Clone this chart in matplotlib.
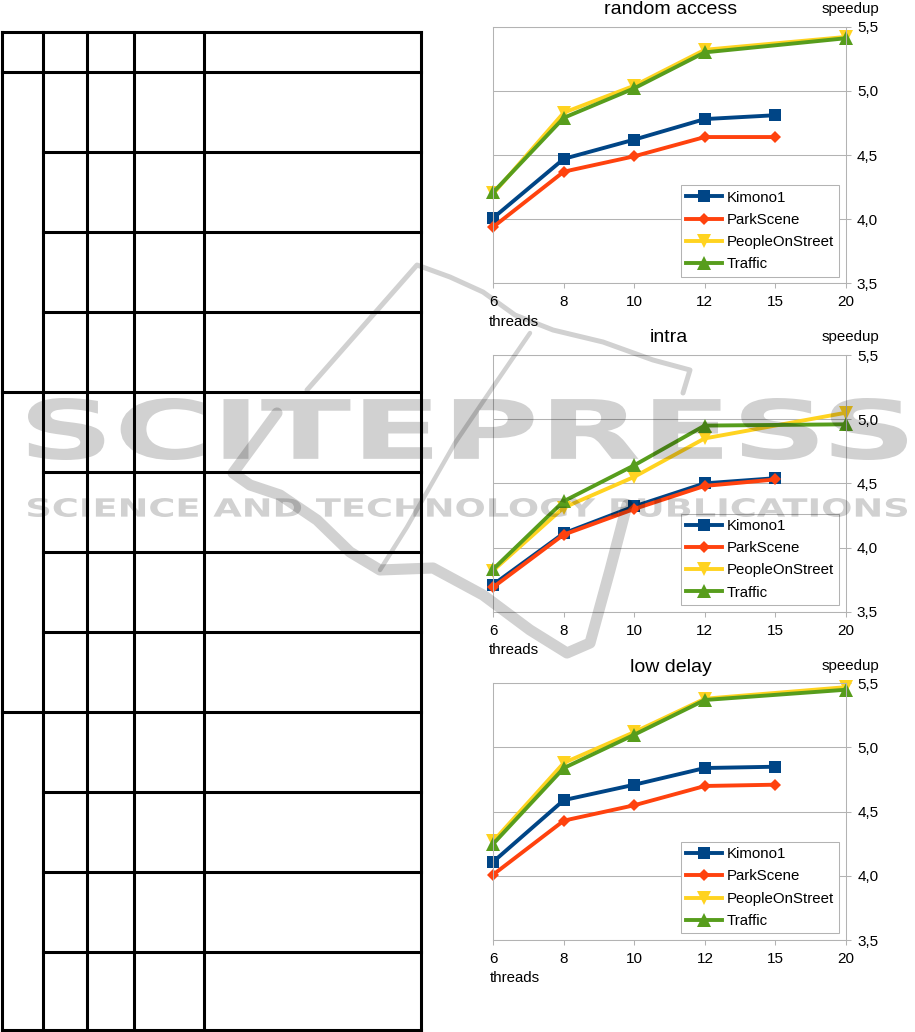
import numpy as np
import matplotlib
matplotlib.use("Agg")
import matplotlib.pyplot as plt
from matplotlib.ticker import FuncFormatter, FixedLocator
from matplotlib.textpath import TextPath
from matplotlib.patches import PathPatch
from matplotlib.font_manager import FontProperties
from matplotlib.transforms import Affine2D

plt.rcParams['font.family'] = ['Liberation Sans', 'DejaVu Sans']

# ---------------- data ----------------
threads = ["6", "8", "10", "12", "15", "20"]
series_names = ["Kimono1", "ParkScene", "PeopleOnStreet", "Traffic"]
nan = np.nan

ra_kimono = [4.01, 4.47, 4.62, 4.78, 4.81, nan]
ra_park = [3.94, 4.37, 4.49, 4.64, 4.64, nan]
ra_people = [4.20, 4.83, 5.04, 5.32, nan, 5.42]
ra_traffic = [4.21, 4.79, 5.02, 5.30, nan, 5.41]

in_kimono = [3.71, 4.11, 4.32, 4.50, 4.54, nan]
in_park = [3.69, 4.10, 4.30, 4.48, 4.53, nan]
in_people = [3.82, 4.31, 4.55, 4.85, nan, 5.05]
in_traffic = [3.83, 4.36, 4.64, 4.95, nan, 4.96]

ld_kimono = [4.11, 4.59, 4.71, 4.84, 4.85, nan]
ld_park = [4.01, 4.43, 4.55, 4.70, 4.71, nan]
ld_people = [4.27, 4.88, 5.12, 5.38, nan, 5.47]
ld_traffic = [4.25, 4.84, 5.10, 5.37, nan, 5.45]

chart_titles = ["random access", "intra", "low delay"]
y_ticks = [3.5, 4.0, 4.5, 5.0, 5.5]

charts = [
    [ra_kimono, ra_park, ra_people, ra_traffic],
    [in_kimono, in_park, in_people, in_traffic],
    [ld_kimono, ld_park, ld_people, ld_traffic],
]

# ---------------- styles ----------------
colors = ["#004586", "#ff420e", "#ffd320", "#579d1c"]
markers = ["s", "D", "v", "^"]
msizes = [8.5, 6, 9.5, 9.5]
GRAY = "#b3b3b3"

W, H = 915, 1032
fig = plt.figure(figsize=(W / 100, H / 100), dpi=100)

def frac_rect(x0, y0, x1, y1):
    return [x0 / W, 1 - y1 / H, (x1 - x0) / W, (y1 - y0) / H]

# background (table) axes in pixel coordinates
bg = fig.add_axes([0, 0, 1, 1], zorder=0)
bg.set_xlim(0, W)
bg.set_ylim(H, 0)
bg.axis("off")

lw_tab = 2.2
vx = [2, 43, 87, 134, 204, 421]
for x in vx:
    bg.plot([x, x], [32, 1030], color="black", lw=lw_tab, solid_capstyle="projecting")
rows = [32, 72, 152, 232, 312, 392, 472, 552, 632, 712, 792, 872, 952, 1030]
full_rows = {32, 72, 392, 712, 1030}
for y in rows:
    x0 = 2 if y in full_rows else 43
    bg.plot([x0, 421], [y, y], color="black", lw=lw_tab, solid_capstyle="projecting")

# chart axes rectangles (pixels)
rects = [
    (493.3, 26.7, 845.7, 283.3),
    (493.0, 355.0, 845.7, 611.7),
    (493.3, 683.3, 846.0, 940.0),
]
title_pos = [(671, 10), (669, 337), (671, 667)]
speed_pos = [(850, 9), (850, 337), (850, 666)]
thr_pos = [(489, 322), (489, 650), (490, 978)]

xpos = np.arange(len(threads))
fmt = FuncFormatter(lambda v, p: f"{v:.1f}".replace(".", ","))

for ci, (data, rect) in enumerate(zip(charts, rects)):
    ax = fig.add_axes(frac_rect(*rect), zorder=2)
    ax.set_xlim(0, len(threads) - 1)
    ax.set_ylim(3.5, 5.5)
    ax.set_axisbelow(True)
    ax.yaxis.grid(True, color=GRAY, lw=0.75)
    for s in ax.spines.values():
        s.set_color(GRAY)
        s.set_linewidth(0.75)
    ax.yaxis.tick_right()
    ax.yaxis.set_major_locator(FixedLocator(y_ticks))
    ax.yaxis.set_major_formatter(fmt)
    ax.set_xticks(xpos)
    ax.set_xticklabels(threads)
    ax.tick_params(axis="y", direction="out", length=3.6, width=0.75, color=GRAY,
                   pad=4.5, labelsize=11)
    ax.tick_params(axis="x", direction="out", length=3.6, width=0.75, color=GRAY,
                   pad=5, labelsize=11)
    handles = []
    for vals, name, c, m, ms in zip(data, series_names, colors, markers, msizes):
        v = np.array(vals, dtype=float)
        ok = ~np.isnan(v)
        h, = ax.plot(xpos[ok], v[ok], color=c, lw=2.8, marker=m, ms=ms,
                     markeredgewidth=0, label=name, clip_on=False)
        handles.append(h)
    leg = ax.legend(handles=handles, loc="lower right", fontsize=10.8,
                    frameon=True, fancybox=False, framealpha=1,
                    edgecolor=GRAY, facecolor="white", numpoints=1,
                    handlelength=2.4, handletextpad=0.3, labelspacing=0.55,
                    borderpad=0.35, borderaxespad=0.45)
    leg.get_frame().set_linewidth(0.75)

    tx, ty = title_pos[ci]
    bg.text(tx, ty, chart_titles[ci], ha="center", va="center", fontsize=14)
    sx, sy = speed_pos[ci]
    bg.text(sx, sy, "speedup", ha="center", va="center", fontsize=10.8)
    hx, hy = thr_pos[ci]
    bg.text(hx, hy, "threads", ha="left", va="center", fontsize=10.8)

# ---------------- watermark overlay ----------------
ov = fig.add_axes([0, 0, 1, 1], zorder=10)
ov.set_xlim(0, W)
ov.set_ylim(H, 0)
ov.axis("off")
ov.patch.set_alpha(0)

WM_ALPHA = 0.18
fp = FontProperties(family="DejaVu Sans", weight="bold")

def stretched_text(s, x0, y0, x1, y1):
    tp = TextPath((0, 0), s, size=10, prop=fp)
    ext = tp.get_extents()
    tr = (Affine2D().translate(-ext.x0, -ext.y0)
          .scale((x1 - x0) / ext.width, -(y1 - y0) / ext.height)
          .translate(x0, y1))
    patch = PathPatch(tr.transform_path(tp), facecolor="black", edgecolor="none",
                      alpha=WM_ALPHA, transform=ov.transData)
    ov.add_patch(patch)

stretched_text("SCITEPRESS", 28, 398, 907, 460)
stretched_text("SCIENCE AND TECHNOLOGY PUBLICATIONS", 28, 498, 907, 517)

swoosh_upper = ([307, 417, 450, 483, 515, 553, 603, 653, 690, 683],
                [390, 265, 277, 292, 315, 330, 342, 360, 370, 393])
swoosh_thin = ([530, 493, 455, 407, 380], [333, 387, 443, 527, 570])
swoosh_low = ([277, 233, 250, 280, 317, 350, 380, 433, 483, 530, 567, 590, 610, 627],
              [413, 473, 485, 495, 520, 552, 570, 568, 595, 630, 653, 643, 570, 505])
for (xs, ys), lw in [(swoosh_upper, 3.6), (swoosh_thin, 3.2), (swoosh_low, 8)]:
    ov.plot(xs, ys, color="black", alpha=WM_ALPHA, lw=lw,
            solid_capstyle="round", solid_joinstyle="round")

fig.savefig("out.png", dpi=100)
